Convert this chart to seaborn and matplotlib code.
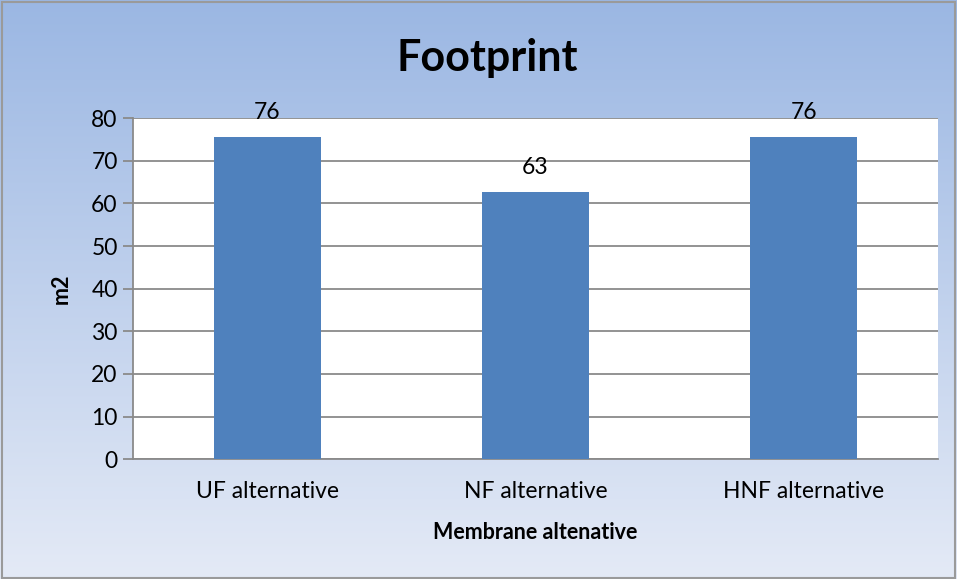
import matplotlib
matplotlib.use('Agg')
import matplotlib.pyplot as plt
import numpy as np
import pandas as pd
import seaborn as sns

# veriler
categories = ['UF alternative', 'NF alternative', 'HNF alternative']
values = [75.5, 62.7, 75.5]
labels = ['76', '63', '76']

df = pd.DataFrame({'alt': categories, 'm2': values})

sns.set_style('white')
plt.rcParams['font.family'] = ['Lato', 'DejaVu Sans']
plt.rcParams['text.color'] = 'black'
plt.rcParams['axes.labelcolor'] = 'black'
plt.rcParams['xtick.color'] = 'black'
plt.rcParams['ytick.color'] = 'black'

fig = plt.figure(figsize=(9.57, 5.79), dpi=100)

# gradient arka plan
bg = fig.add_axes([0, 0, 1, 1], zorder=0)
top = np.array([155, 183, 227]) / 255
bot = np.array([228, 234, 246]) / 255
t = np.linspace(0, 1, 256)[:, None]
grad = (top * (1 - t) + bot * t)[:, None, :]
bg.imshow(grad, aspect='auto', extent=[0, 1, 0, 1])
bg.set_axis_off()
bg.add_patch(plt.Rectangle((0.002, 0.002), 0.996, 0.994, fill=False,
                           edgecolor='#9a9a9a', lw=1.5, transform=bg.transAxes))

ax = fig.add_axes([0.139, 0.207, 0.841, 0.589], zorder=1)
ax.set_facecolor('white')
sns.barplot(data=df, x='alt', y='m2', color='#4F81BD', width=0.4,
            saturation=1, ax=ax, zorder=3, linewidth=0)

ax.set_ylim(0, 80)
ax.set_yticks(range(0, 81, 10))
ax.grid(axis='y', color='#8a8a8a', lw=1.3, zorder=0)
ax.set_axisbelow(True)
for s in ['top', 'right']:
    ax.spines[s].set_visible(False)
ax.spines['left'].set_color('#8a8a8a')
ax.spines['left'].set_linewidth(1.3)
ax.spines['bottom'].set_color('#8a8a8a')
ax.spines['bottom'].set_linewidth(1.3)
ax.tick_params(axis='y', length=7, width=1.3, color='#8a8a8a', labelcolor='black',
               labelsize=16.5, pad=4, left=True)
ax.tick_params(axis='x', length=0, labelsize=16.5, pad=16, labelcolor='black')

for i, (v, lab) in enumerate(zip(values, labels)):
    ax.text(i, v + 3.3, lab, ha='center', va='bottom', fontsize=16.5)

ax.set_xlabel('Membrane altenative', fontsize=15.5, fontweight='bold', labelpad=14)
ax.set_ylabel('m2', fontsize=15.5, fontweight='bold', labelpad=14)

fig.text(0.509, 0.9, 'Footprint', ha='center', va='center', fontsize=31, fontweight='bold')

fig.savefig('out.png', dpi=100)
